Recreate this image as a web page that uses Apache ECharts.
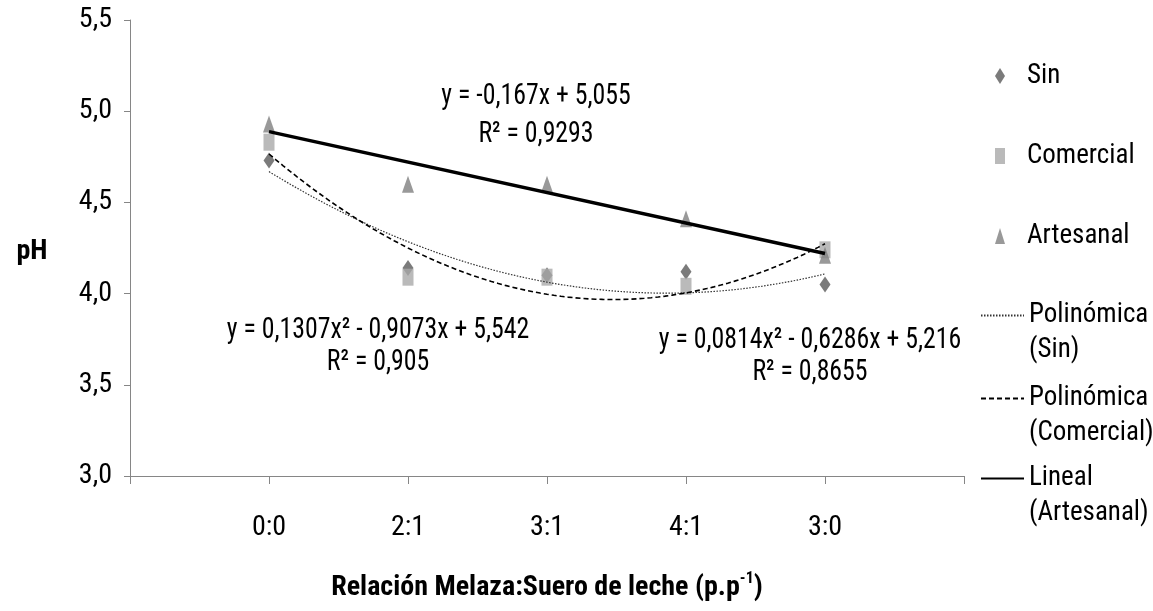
<!DOCTYPE html>
<html>
<head>
<meta charset="utf-8">
<script src="https://cdn.jsdelivr.net/npm/echarts@6/dist/echarts.min.js"></script>
<style>
html,body{margin:0;padding:0;background:#fff;}
#c{width:1153px;height:611px;}
</style>
</head>
<body>
<div id="c"></div>
<script>
// ---- data ----
var categories = ['0:0', '2:1', '3:1', '4:1', '3:0'];
var xPos = [1, 2, 3, 4, 5];
var sinValues = [4.73, 4.14, 4.10, 4.12, 4.05];
var comercialValues = [4.83, 4.09, 4.09, 4.04, 4.24];
var artesanalValues = [4.93, 4.60, 4.60, 4.41, 4.21];
// trendline coefficients as printed on the chart (c0 + c1*x + c2*x^2)
var polySinCoef = [5.216, -0.6286, 0.0814];
var polyComCoef = [5.542, -0.9073, 0.1307];
var linArtCoef = [5.055, -0.167];

var FONT = "'Roboto Condensed','Liberation Sans Narrow','Arial Narrow','Liberation Sans',sans-serif";

function pts(xs, ys) { return xs.map(function (x, i) { return [x, ys[i]]; }); }
function trend(coef) {
  var out = [];
  for (var k = 0; k <= 80; k++) {
    var x = 1 + k * 0.05, y = 0;
    for (var j = 0; j < coef.length; j++) y += coef[j] * Math.pow(x, j);
    out.push([x, y]);
  }
  return out;
}

var chart = echarts.init(document.getElementById('c'), null, {renderer: 'canvas'});

var baseText = {fontFamily: FONT, fontSize: 27, color: '#000', lineHeight: 35};

function markerLegend(name, icon, top) {
  return {
    data: [{name: name, icon: icon}],
    orient: 'vertical', left: 995, top: top, padding: 0,
    itemWidth: 10, itemHeight: 16,
    textStyle: Object.assign({}, baseText, {lineHeight: 34, padding: [0, 0, 0, 17]})
  };
}
function lineLegend(name, top) {
  return {
    data: [{name: name}],
    orient: 'vertical', left: 980, top: top, padding: 0,
    itemWidth: 43, itemHeight: 10,
    itemStyle: {opacity: 0},
    textStyle: Object.assign({}, baseText),
    formatter: function (n) { return '\n' + n.replace(' (', '\n('); }
  };
}
function eqText(txt, x, y) {
  return {type: 'text', x: x, y: y, scaleX: 0.86, scaleY: 1,
    style: {text: txt, x: 0, y: 0, font: '30px ' + FONT, fill: '#000',
      align: 'center', verticalAlign: 'middle', textAlign: 'center', textVerticalAlign: 'middle'}};
}

var option = {
  backgroundColor: '#fff',
  animation: false,
  grid: {left: 130, right: 189, top: 20, bottom: 135, containLabel: false},
  xAxis: {
    type: 'value', min: 0, max: 6, interval: 1,
    axisLine: {lineStyle: {color: '#868686', width: 1}},
    axisTick: {show: true, length: 8, lineStyle: {color: '#868686'}},
    splitLine: {show: false},
    axisLabel: {
      margin: 38, fontFamily: FONT, fontSize: 28, color: '#000',
      formatter: function (v) { var i = xPos.indexOf(v); return i >= 0 ? categories[i] : ''; }
    }
  },
  yAxis: {
    type: 'value', min: 3, max: 5.5, interval: 0.5,
    axisLine: {show: true, lineStyle: {color: '#868686', width: 1}},
    axisTick: {show: true, length: 6, lineStyle: {color: '#868686'}},
    splitLine: {show: false},
    axisLabel: {
      margin: 18, fontFamily: FONT, fontSize: 28, color: '#000',
      formatter: function (v) { return v.toFixed(1).replace('.', ','); }
    }
  },
  legend: [
    markerLegend('Sin', 'diamond', 59),
    markerLegend('Comercial', 'rect', 139),
    markerLegend('Artesanal', 'triangle', 219),
    lineLegend('Polinómica (Sin)', 263),
    lineLegend('Polinómica (Comercial)', 346),
    lineLegend('Lineal (Artesanal)', 426)
  ],
  series: [
    {name: 'Sin', type: 'scatter', symbol: 'diamond', symbolSize: [11, 16],
     itemStyle: {color: '#5a5a5a'}, data: pts(xPos, sinValues), z: 2},
    {name: 'Comercial', type: 'scatter', symbol: 'rect', symbolSize: [11, 17],
     itemStyle: {color: '#a9a9a9'}, data: pts(xPos, comercialValues), z: 2},
    {name: 'Artesanal', type: 'scatter', symbol: 'triangle', symbolSize: [12, 17],
     itemStyle: {color: '#808080'}, data: pts(xPos, artesanalValues), z: 2},
    {name: 'Polinómica (Sin)', type: 'line', showSymbol: false, symbol: 'none', smooth: false,
     lineStyle: {color: '#333', width: 1.2, type: [1.5, 1.5]}, itemStyle: {color: '#333'},
     data: trend(polySinCoef), z: 3},
    {name: 'Polinómica (Comercial)', type: 'line', showSymbol: false, symbol: 'none',
     lineStyle: {color: '#000', width: 1.6, type: [5, 3]}, itemStyle: {color: '#000'},
     data: trend(polyComCoef), z: 3},
    {name: 'Lineal (Artesanal)', type: 'line', showSymbol: false, symbol: 'none',
     lineStyle: {color: '#000', width: 3.5}, itemStyle: {color: '#000'},
     data: [[1, linArtCoef[0] + linArtCoef[1]], [5, linArtCoef[0] + 5 * linArtCoef[1]]], z: 3}
  ],
  graphic: [
    eqText('y = -0,167x + 5,055', 536, 96),
    eqText('R² = 0,9293', 536, 134),
    eqText('y = 0,1307x² - 0,9073x + 5,542', 378, 330),
    eqText('R² = 0,905', 378, 362),
    eqText('y = 0,0814x² - 0,6286x + 5,216', 810, 340),
    eqText('R² = 0,8655', 810, 372),
    {type: 'text', x: 32, y: 252, style: {text: 'pH', font: 'bold 28px ' + FONT, fill: '#000', align: 'center', verticalAlign: 'middle', textAlign: 'center', textVerticalAlign: 'middle'}},
    {type: 'text', x: 547, y: 588, style: {
      text: '{b|Relación Melaza:Suero de leche (p.p}{s|-1}{b|)}',
      align: 'center', verticalAlign: 'middle', textAlign: 'center', textVerticalAlign: 'middle',
      rich: {
        b: {fontFamily: FONT, fontSize: 28, fontWeight: 'bold', fill: '#000', color: '#000', lineHeight: 34},
        s: {fontFamily: FONT, fontSize: 16, fontWeight: 'bold', fill: '#000', color: '#000', verticalAlign: 'top', lineHeight: 20}
      }
    }}
  ]
};
chart.setOption(option);
</script>
</body>
</html>
